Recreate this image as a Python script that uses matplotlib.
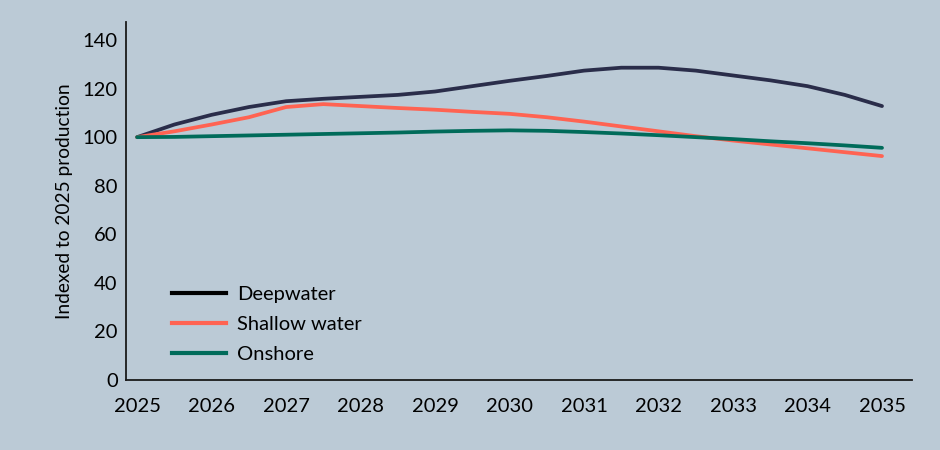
import matplotlib
matplotlib.use("Agg")
import matplotlib.pyplot as plt
from matplotlib.lines import Line2D

plt.rcParams['font.family'] = ['Lato', 'DejaVu Sans']

# values read every half year off the source chart
years = [2025, 2025.5, 2026, 2026.5, 2027, 2027.5, 2028, 2028.5, 2029, 2029.5, 2030,
         2030.5, 2031, 2031.5, 2032, 2032.5, 2033, 2033.5, 2034, 2034.5, 2035]
deepwater = [100, 105.2, 109.2, 112.4, 114.8, 115.8, 116.6, 117.4, 118.8, 121, 123.2,
             125.2, 127.4, 128.6, 128.6, 127.4, 125.4, 123.4, 121, 117.4, 112.8]
shallow_water = [100, 102.4, 105.2, 108.2, 112.4, 113.6, 112.8, 112, 111.3, 110.4, 109.6,
                 108.2, 106.4, 104.4, 102.4, 100.4, 98.6, 97, 95.4, 93.8, 92.2]
onshore = [100, 100.1, 100.4, 100.7, 101, 101.3, 101.6, 101.9, 102.3, 102.6, 102.8,
           102.6, 102.1, 101.5, 100.8, 100, 99.2, 98.3, 97.5, 96.6, 95.6]
xtick_years = [2025, 2026, 2027, 2028, 2029, 2030, 2031, 2032, 2033, 2034, 2035]
yticks = [0, 20, 40, 60, 80, 100, 120, 140]

bg = '#BBCAD6'
c_deep = '#2A2D4A'
c_shallow = '#FF6352'
c_on = '#006B5A'

fig = plt.figure(figsize=(9.4, 4.5), dpi=100, facecolor=bg)
ax = fig.add_axes([0.134, 0.1556, 0.836, 0.7954])
ax.set_facecolor(bg)

for vals, col in [(deepwater, c_deep), (shallow_water, c_shallow), (onshore, c_on)]:
    ax.plot(years, vals, color=col, lw=2.7, solid_capstyle='round', solid_joinstyle='round')

ax.set_xlim(2024.85, 2035.4)
ax.set_ylim(0, 147.4)
ax.set_xticks(xtick_years)
ax.set_xticklabels([str(y) for y in xtick_years])
ax.set_yticks(yticks)
ax.tick_params(axis='y', length=0, labelsize=14.5, pad=6)
ax.tick_params(axis='x', length=0, labelsize=14.5, pad=13)
ax.set_ylabel('Indexed to 2025 production', fontsize=13.8, labelpad=7)

for s in ['top', 'right']:
    ax.spines[s].set_visible(False)
for s in ['left', 'bottom']:
    ax.spines[s].set_linewidth(1.3)
    ax.spines[s].set_color('#1a1a1a')

handles = [Line2D([0], [0], color='#000000', lw=3),
           Line2D([0], [0], color=c_shallow, lw=3),
           Line2D([0], [0], color=c_on, lw=3)]
ax.legend(handles, ['Deepwater', 'Shallow water', 'Onshore'],
          loc='lower left', bbox_to_anchor=(0.035, -0.002), frameon=False,
          fontsize=14.5, handlelength=2.7, handletextpad=0.55, labelspacing=0.62)

fig.savefig('out.png', dpi=100, facecolor=bg)
